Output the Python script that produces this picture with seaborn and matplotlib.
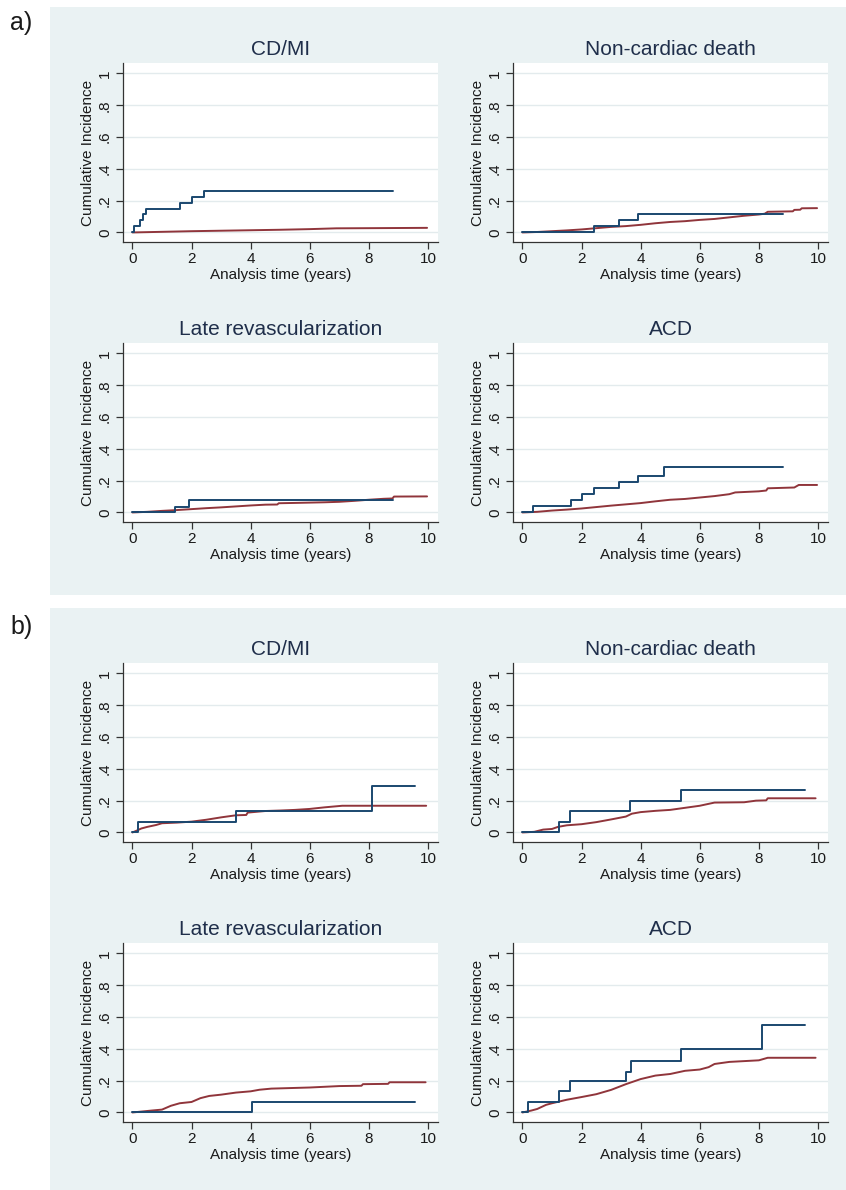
import numpy as np
import pandas as pd
import matplotlib
matplotlib.use("Agg")
import matplotlib.pyplot as plt
from matplotlib.patches import Rectangle
import seaborn as sns

titles = ["CD/MI", "Non-cardiac death", "Late revascularization", "ACD"]
panel_labels = ["a)", "b)"]
y_ticks = [0, 0.2, 0.4, 0.6, 0.8, 1.0]
y_tick_labels = ["0", ".2", ".4", ".6", ".8", "1"]
x_ticks = [0, 2, 4, 6, 8, 10]

# ---- panel a) ----
# navy: step curves (time of jump, value after jump)
a_cdmi_navy_t = [0, 0.05, 0.25, 0.36, 0.45, 1.62, 2.03, 2.42, 8.82]
a_cdmi_navy_y = [0, 0.038, 0.076, 0.113, 0.150, 0.188, 0.226, 0.263, 0.263]
a_cdmi_red_t = [0, 0.5, 1, 2, 3, 4, 5, 6, 6.9, 8, 9, 9.97]
a_cdmi_red_y = [0, 0.002, 0.004, 0.008, 0.011, 0.014, 0.017, 0.021, 0.026, 0.027, 0.028, 0.029]

a_ncd_navy_t = [0, 2.42, 3.27, 3.91, 8.82]
a_ncd_navy_y = [0, 0.038, 0.076, 0.113, 0.113]
a_ncd_red_t = [0, 0.5, 1, 1.5, 2, 2.5, 3, 3.5, 4, 4.5, 5, 5.5, 6, 6.5, 7, 7.5, 8, 8.2, 8.3,
               9.15, 9.2, 9.4, 9.45, 9.97]
a_ncd_red_y = [0, 0.003, 0.008, 0.013, 0.019, 0.027, 0.035, 0.040, 0.048, 0.058, 0.066, 0.071,
               0.079, 0.085, 0.095, 0.105, 0.113, 0.118, 0.130, 0.133, 0.142, 0.143, 0.152, 0.153]

a_rev_navy_t = [0, 1.43, 1.93, 8.82]
a_rev_navy_y = [0, 0.036, 0.078, 0.078]
a_rev_red_t = [0, 0.5, 1, 1.5, 2, 2.5, 3, 3.5, 4, 4.5, 4.9, 4.95, 5.5, 6, 6.5, 7, 7.5, 8, 8.5,
               8.8, 8.85, 9.97]
a_rev_red_y = [0, 0.004, 0.010, 0.015, 0.021, 0.027, 0.032, 0.038, 0.044, 0.049, 0.050, 0.058,
               0.060, 0.062, 0.064, 0.067, 0.073, 0.080, 0.086, 0.088, 0.100, 0.101]

a_acd_navy_t = [0, 0.37, 1.64, 2.03, 2.43, 3.28, 3.9, 4.8, 8.82]
a_acd_navy_y = [0, 0.038, 0.078, 0.116, 0.154, 0.190, 0.227, 0.284, 0.284]
a_acd_red_t = [0, 0.5, 1, 1.5, 2, 2.5, 3, 3.5, 4, 4.5, 5, 5.5, 6, 6.5, 7, 7.2, 8, 8.25, 8.3,
               9.2, 9.35, 9.97]
a_acd_red_y = [0, 0.004, 0.012, 0.018, 0.025, 0.034, 0.043, 0.051, 0.059, 0.070, 0.080, 0.085,
               0.094, 0.103, 0.115, 0.126, 0.133, 0.138, 0.152, 0.157, 0.173, 0.173]

# ---- panel b) ----
b_cdmi_navy_t = [0, 0.18, 3.52, 8.1, 9.57]
b_cdmi_navy_y = [0, 0.067, 0.132, 0.290, 0.290]
b_cdmi_red_t = [0, 0.15, 0.3, 0.5, 0.8, 1, 1.5, 2, 2.5, 3, 3.5, 3.85, 3.9, 4.5, 5, 5.5, 6, 6.5,
                7.1, 9.94]
b_cdmi_red_y = [0, 0.012, 0.025, 0.035, 0.047, 0.058, 0.062, 0.068, 0.080, 0.095, 0.108, 0.110,
                0.125, 0.135, 0.138, 0.142, 0.148, 0.158, 0.168, 0.168]

b_ncd_navy_t = [0, 1.25, 1.6, 3.65, 5.35, 9.57]
b_ncd_navy_y = [0, 0.065, 0.132, 0.197, 0.269, 0.269]
b_ncd_red_t = [0, 0.4, 0.7, 1.0, 1.2, 1.5, 2, 2.5, 3, 3.5, 3.7, 4, 4.5, 5, 5.5, 6, 6.5, 7.5,
               7.9, 8.25, 8.3, 9.92]
b_ncd_red_y = [0, 0.004, 0.018, 0.022, 0.035, 0.045, 0.052, 0.065, 0.082, 0.100, 0.118, 0.128,
               0.136, 0.142, 0.155, 0.168, 0.188, 0.190, 0.200, 0.202, 0.215, 0.215]

b_rev_navy_t = [0, 4.05, 9.57]
b_rev_navy_y = [0, 0.067, 0.067]
b_rev_red_t = [0, 0.65, 1.0, 1.3, 1.6, 2, 2.3, 2.6, 3, 3.5, 4, 4.3, 4.7, 6, 7, 7.75, 7.8,
               8.65, 8.7, 9.92]
b_rev_red_y = [0, 0.012, 0.018, 0.042, 0.058, 0.066, 0.090, 0.104, 0.112, 0.125, 0.133, 0.143,
               0.150, 0.157, 0.166, 0.168, 0.178, 0.180, 0.190, 0.190]

b_acd_navy_t = [0, 0.18, 1.25, 1.6, 3.52, 3.66, 5.35, 8.1, 9.57]
b_acd_navy_y = [0, 0.067, 0.132, 0.195, 0.256, 0.322, 0.397, 0.550, 0.550]
b_acd_red_t = [0, 0.3, 0.5, 0.8, 1, 1.5, 2, 2.5, 3, 3.5, 4, 4.5, 5, 5.5, 6, 6.3, 6.5, 7, 8,
               8.3, 9.92]
b_acd_red_y = [0, 0.012, 0.022, 0.048, 0.058, 0.080, 0.097, 0.115, 0.142, 0.178, 0.210, 0.232,
               0.242, 0.262, 0.270, 0.285, 0.305, 0.318, 0.328, 0.344, 0.344]

panels = [
    [(a_cdmi_navy_t, a_cdmi_navy_y, a_cdmi_red_t, a_cdmi_red_y),
     (a_ncd_navy_t, a_ncd_navy_y, a_ncd_red_t, a_ncd_red_y),
     (a_rev_navy_t, a_rev_navy_y, a_rev_red_t, a_rev_red_y),
     (a_acd_navy_t, a_acd_navy_y, a_acd_red_t, a_acd_red_y)],
    [(b_cdmi_navy_t, b_cdmi_navy_y, b_cdmi_red_t, b_cdmi_red_y),
     (b_ncd_navy_t, b_ncd_navy_y, b_ncd_red_t, b_ncd_red_y),
     (b_rev_navy_t, b_rev_navy_y, b_rev_red_t, b_rev_red_y),
     (b_acd_navy_t, b_acd_navy_y, b_acd_red_t, b_acd_red_y)],
]

NAVY = "#1A476F"
MAROON = "#90353B"
BG = "#EAF2F3"
GRID = "#E3EBED"
TXT = "#1a1a1a"

sns.set_style("white")
plt.rcParams['font.family'] = ['Liberation Sans', 'DejaVu Sans']

W, H = 846, 1190
fig = plt.figure(figsize=(W / 100, H / 100), dpi=100)
fig.patch.set_facecolor("white")

# light panel backgrounds (pixel coords: x0, y0, x1, y1)
panel_boxes = [(50, 7, 846, 595), (50, 608, 846, 1190)]
label_y = [23, 627]
for (x0, y0, x1, y1), lab, ly in zip(panel_boxes, panel_labels, label_y):
    fig.patches.append(Rectangle((x0 / W, 1 - y1 / H), (x1 - x0) / W, (y1 - y0) / H,
                                 transform=fig.transFigure, facecolor=BG,
                                 edgecolor="none", zorder=-10))
    fig.text(10 / W, 1 - ly / H, lab, fontsize=18, color=TXT, ha="left", va="center")

col_left = [123, 513]
row_top = [[63, 343], [663, 943]]
ax_w, ax_h = 315, 179

for p, curves in enumerate(panels):
    for k, (nt, ny, rt, ry) in enumerate(curves):
        r, c = divmod(k, 2)
        left = col_left[c]
        top = row_top[p][r]
        ax = fig.add_axes([left / W, 1 - (top + ax_h) / H, ax_w / W, ax_h / H])
        ax.set_facecolor("white")
        red = pd.DataFrame({"time": rt, "ci": ry})
        navy = pd.DataFrame({"time": nt, "ci": ny})
        sns.lineplot(data=red, x="time", y="ci", color=MAROON, estimator=None,
                     sort=False, linewidth=1.4, ax=ax)
        sns.lineplot(data=navy, x="time", y="ci", color=NAVY, estimator=None,
                     sort=False, drawstyle="steps-post", linewidth=1.4, ax=ax)
        ax.set_xlim(-0.32, 10.34)
        ax.set_ylim(-0.06, 1.066)
        ax.set_xticks(x_ticks)
        ax.set_yticks(y_ticks)
        ax.set_yticklabels(y_tick_labels, rotation=90, va="center")
        ax.yaxis.grid(True, color=GRID, linewidth=1)
        ax.xaxis.grid(False)
        ax.set_axisbelow(True)
        for s in ["top", "right"]:
            ax.spines[s].set_visible(False)
        for s in ["left", "bottom"]:
            ax.spines[s].set_color("#333333")
            ax.spines[s].set_linewidth(0.9)
        ax.tick_params(axis="both", direction="out", length=5, width=0.9,
                       color="#333333", labelsize=11, labelcolor=TXT,
                       left=True, bottom=True)
        ax.tick_params(axis="y", pad=3)
        ax.tick_params(axis="x", pad=2)
        ax.set_xlabel("Analysis time (years)", fontsize=11, color=TXT, labelpad=2)
        ax.set_ylabel("Cumulative Incidence", fontsize=11, color=TXT, labelpad=2)
        ax.set_title(titles[k], fontsize=15, color="#1F2E4A", pad=6)

fig.savefig("out.png", dpi=100, facecolor=fig.get_facecolor())
